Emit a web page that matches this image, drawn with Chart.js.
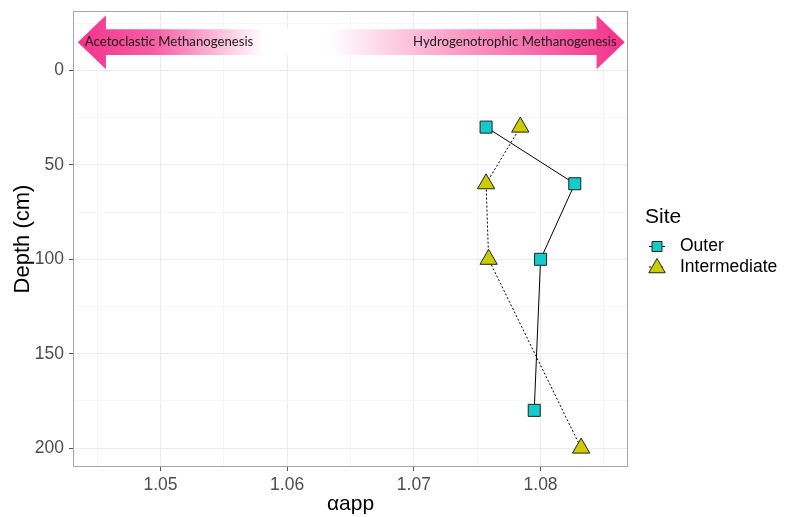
<!DOCTYPE html>
<html>
<head>
<meta charset="utf-8">
<script src="https://cdn.jsdelivr.net/npm/chart.js@4.4.1/dist/chart.umd.min.js"></script>
<style>
  html, body { margin: 0; padding: 0; background: #fff; }
  #wrap { width: 786px; height: 517px; position: relative; }
</style>
</head>
<body>
<div id="wrap"><canvas id="chart"></canvas></div>
<script>
// --- data ---
const siteNames = ['Outer', 'Intermediate'];
const depthOuter = [30, 60, 100, 180];
const alphaOuter = [1.0757, 1.0827, 1.0800, 1.0795];
const depthInter = [30, 60, 100, 200];
const alphaInter = [1.0784, 1.0757, 1.0759, 1.0832];

const xTickMajor = [1.05, 1.06, 1.07, 1.08];
const xTickMinor = [1.045, 1.055, 1.065, 1.075, 1.085];
const yTickMajor = [0, 50, 100, 150, 200];
const yTickMinor = [-25, 25, 75, 125, 175];

const arrowLabels = ['Acetoclastic Methanogenesis', 'Hydrogenotrophic Methanogenesis'];

const FONT = "'Liberation Sans', Arial, sans-serif";
const isMajor = (v, list) => list.some(m => Math.abs(m - v) < 1e-9);

function toPoints(xs, ys) {
    return xs.map((x, i) => ({ x: x, y: ys[i] }));
}

// double arrow banner at the top (in data units)
const banner = { x0: 1.04348, x1: 1.08664, head: 0.00222, yMid: -15, yShaft: 6.8, yHead: 14.3 };

const bannerPlugin = {
    id: 'banner',
    beforeDatasetsDraw(chart) {
        const { ctx, scales: { x, y } } = chart;
        const L = x.getPixelForValue(banner.x0), R = x.getPixelForValue(banner.x1);
        const hl = x.getPixelForValue(banner.x0 + banner.head);
        const hr = x.getPixelForValue(banner.x1 - banner.head);
        const ym = y.getPixelForValue(banner.yMid);
        const st = y.getPixelForValue(banner.yMid - banner.yShaft);
        const sb = y.getPixelForValue(banner.yMid + banner.yShaft);
        const ht = y.getPixelForValue(banner.yMid - banner.yHead);
        const hb = y.getPixelForValue(banner.yMid + banner.yHead);

        const g = ctx.createLinearGradient(L, 0, R, 0);
        g.addColorStop(0, '#f4338b');
        g.addColorStop(0.14, '#f65ea4');
        g.addColorStop(0.34, '#ffffff');
        g.addColorStop(0.46, '#ffffff');
        g.addColorStop(0.7, '#fa9ac5');
        g.addColorStop(1, '#f4318a');

        ctx.save();
        ctx.beginPath();
        ctx.moveTo(L, ym);
        ctx.lineTo(hl, ht);
        ctx.lineTo(hl, st);
        ctx.lineTo(hr, st);
        ctx.lineTo(hr, ht);
        ctx.lineTo(R, ym);
        ctx.lineTo(hr, hb);
        ctx.lineTo(hr, sb);
        ctx.lineTo(hl, sb);
        ctx.lineTo(hl, hb);
        ctx.closePath();
        ctx.fillStyle = g;
        ctx.fill();

        ctx.fillStyle = '#1a1a1a';
        ctx.font = "13.2px Lato, 'Open Sans', sans-serif";
        ctx.textBaseline = 'middle';
        ctx.textAlign = 'left';
        ctx.fillText(arrowLabels[0], L + 7, ym);
        ctx.textAlign = 'right';
        ctx.fillText(arrowLabels[1], R - 8, ym);
        ctx.restore();
    },
    afterDraw(chart) {
        const { ctx, chartArea: a } = chart;
        ctx.save();
        ctx.strokeStyle = '#a6a6a6';
        ctx.lineWidth = 1;
        ctx.strokeRect(Math.round(a.left) + 0.5, Math.round(a.top) + 0.5,
            Math.round(a.right - a.left) - 1, Math.round(a.bottom - a.top) - 1);
        ctx.restore();
    }
};

// ggplot-like legend on the right
const legendPlugin = {
    id: 'siteLegend',
    afterDraw(chart) {
        const ctx = chart.ctx;
        ctx.save();
        ctx.fillStyle = '#000';
        ctx.font = '21px ' + FONT;
        ctx.textBaseline = 'alphabetic';
        ctx.textAlign = 'left';
        ctx.fillText('Site', 645, 223);

        const keyX = 657, rows = [246.5, 267];
        chart.data.datasets.forEach((ds, i) => {
            const cy = rows[i];
            ctx.beginPath();
            ctx.strokeStyle = '#000';
            ctx.lineWidth = 1;
            ctx.setLineDash(ds.borderDash || []);
            ctx.moveTo(keyX - 8, cy);
            ctx.lineTo(keyX + 8, cy);
            ctx.stroke();
            ctx.setLineDash([]);

            ctx.fillStyle = ds.pointBackgroundColor;
            ctx.strokeStyle = ds.pointBorderColor;
            ctx.beginPath();
            if (ds.pointStyle === 'triangle') {
                const r = 9.5, yc = cy + 1;
                ctx.moveTo(keyX, yc - r);
                ctx.lineTo(keyX + r * 0.866, yc + r / 2);
                ctx.lineTo(keyX - r * 0.866, yc + r / 2);
                ctx.closePath();
            } else {
                ctx.rect(keyX - 5, cy - 5, 10, 10);
            }
            ctx.fill();
            ctx.stroke();

            ctx.fillStyle = '#000';
            ctx.font = '17.5px ' + FONT;
            ctx.textBaseline = 'middle';
            ctx.fillText(ds.label, 680, cy);
        });
        ctx.restore();
    }
};

const gridColor = (list) => (c) => isMajor(c.tick.value, list) ? '#ebebeb' : '#f5f5f5';
const tickMarkColor = (list) => (c) => isMajor(c.tick.value, list) ? '#555555' : 'rgba(0,0,0,0)';

new Chart(document.getElementById('chart'), {
    type: 'scatter',
    data: {
        datasets: [
            {
                label: siteNames[0],
                data: toPoints(alphaOuter, depthOuter),
                showLine: true,
                borderColor: '#000',
                borderWidth: 1,
                pointStyle: 'rect',
                pointRadius: 8.5,
                pointBackgroundColor: '#12cbcb',
                pointBorderColor: '#222',
                pointBorderWidth: 1
            },
            {
                label: siteNames[1],
                data: toPoints(alphaInter, depthInter),
                showLine: true,
                borderColor: '#000',
                borderWidth: 1,
                borderDash: [2, 2],
                pointStyle: 'triangle',
                pointRadius: 10,
                pointBackgroundColor: '#cccc00',
                pointBorderColor: '#222',
                pointBorderWidth: 1
            }
        ]
    },
    options: {
        responsive: true,
        maintainAspectRatio: false,
        animation: false,
        events: [],
        layout: { autoPadding: false, padding: { top: 11, right: 158, left: 0, bottom: 0 } },
        plugins: { legend: { display: false }, tooltip: { enabled: false } },
        scales: {
            x: {
                type: 'linear',
                min: 1.0431,
                max: 1.0869,
                afterBuildTicks: s => { s.ticks = xTickMajor.concat(xTickMinor).sort().map(v => ({ value: v })); },
                afterFit: s => { s.height = 50; s.paddingLeft = 0; s.paddingRight = 0; },
                border: { display: false },
                grid: { color: gridColor(xTickMajor), tickColor: tickMarkColor(xTickMajor), tickLength: 4, lineWidth: 1 },
                ticks: {
                    autoSkip: false,
                    maxRotation: 0,
                    padding: 4,
                    color: '#4d4d4d',
                    font: { family: FONT, size: 17.5 },
                    callback: v => isMajor(v, xTickMajor) ? v.toFixed(2) : ''
                },
                title: { display: true, text: 'αapp', color: '#000', font: { family: FONT, size: 21 }, padding: { top: 0, bottom: 0 } }
            },
            y: {
                type: 'linear',
                reverse: true,
                min: -31.5,
                max: 210,
                afterBuildTicks: s => { s.ticks = yTickMajor.concat(yTickMinor).sort((a, b) => a - b).map(v => ({ value: v })); },
                afterFit: s => { s.width = 73; s.paddingTop = 0; s.paddingBottom = 0; },
                border: { display: false },
                grid: { color: gridColor(yTickMajor), tickColor: tickMarkColor(yTickMajor), tickLength: 4, lineWidth: 1 },
                ticks: {
                    autoSkip: false,
                    padding: 5,
                    color: '#4d4d4d',
                    font: { family: FONT, size: 17.5 },
                    callback: v => isMajor(v, yTickMajor) ? String(v) : ''
                },
                title: { display: true, text: 'Depth (cm)', color: '#000', font: { family: FONT, size: 22 }, padding: { top: 10, bottom: 0 } }
            }
        }
    },
    plugins: [bannerPlugin, legendPlugin]
});
</script>
</body>
</html>
